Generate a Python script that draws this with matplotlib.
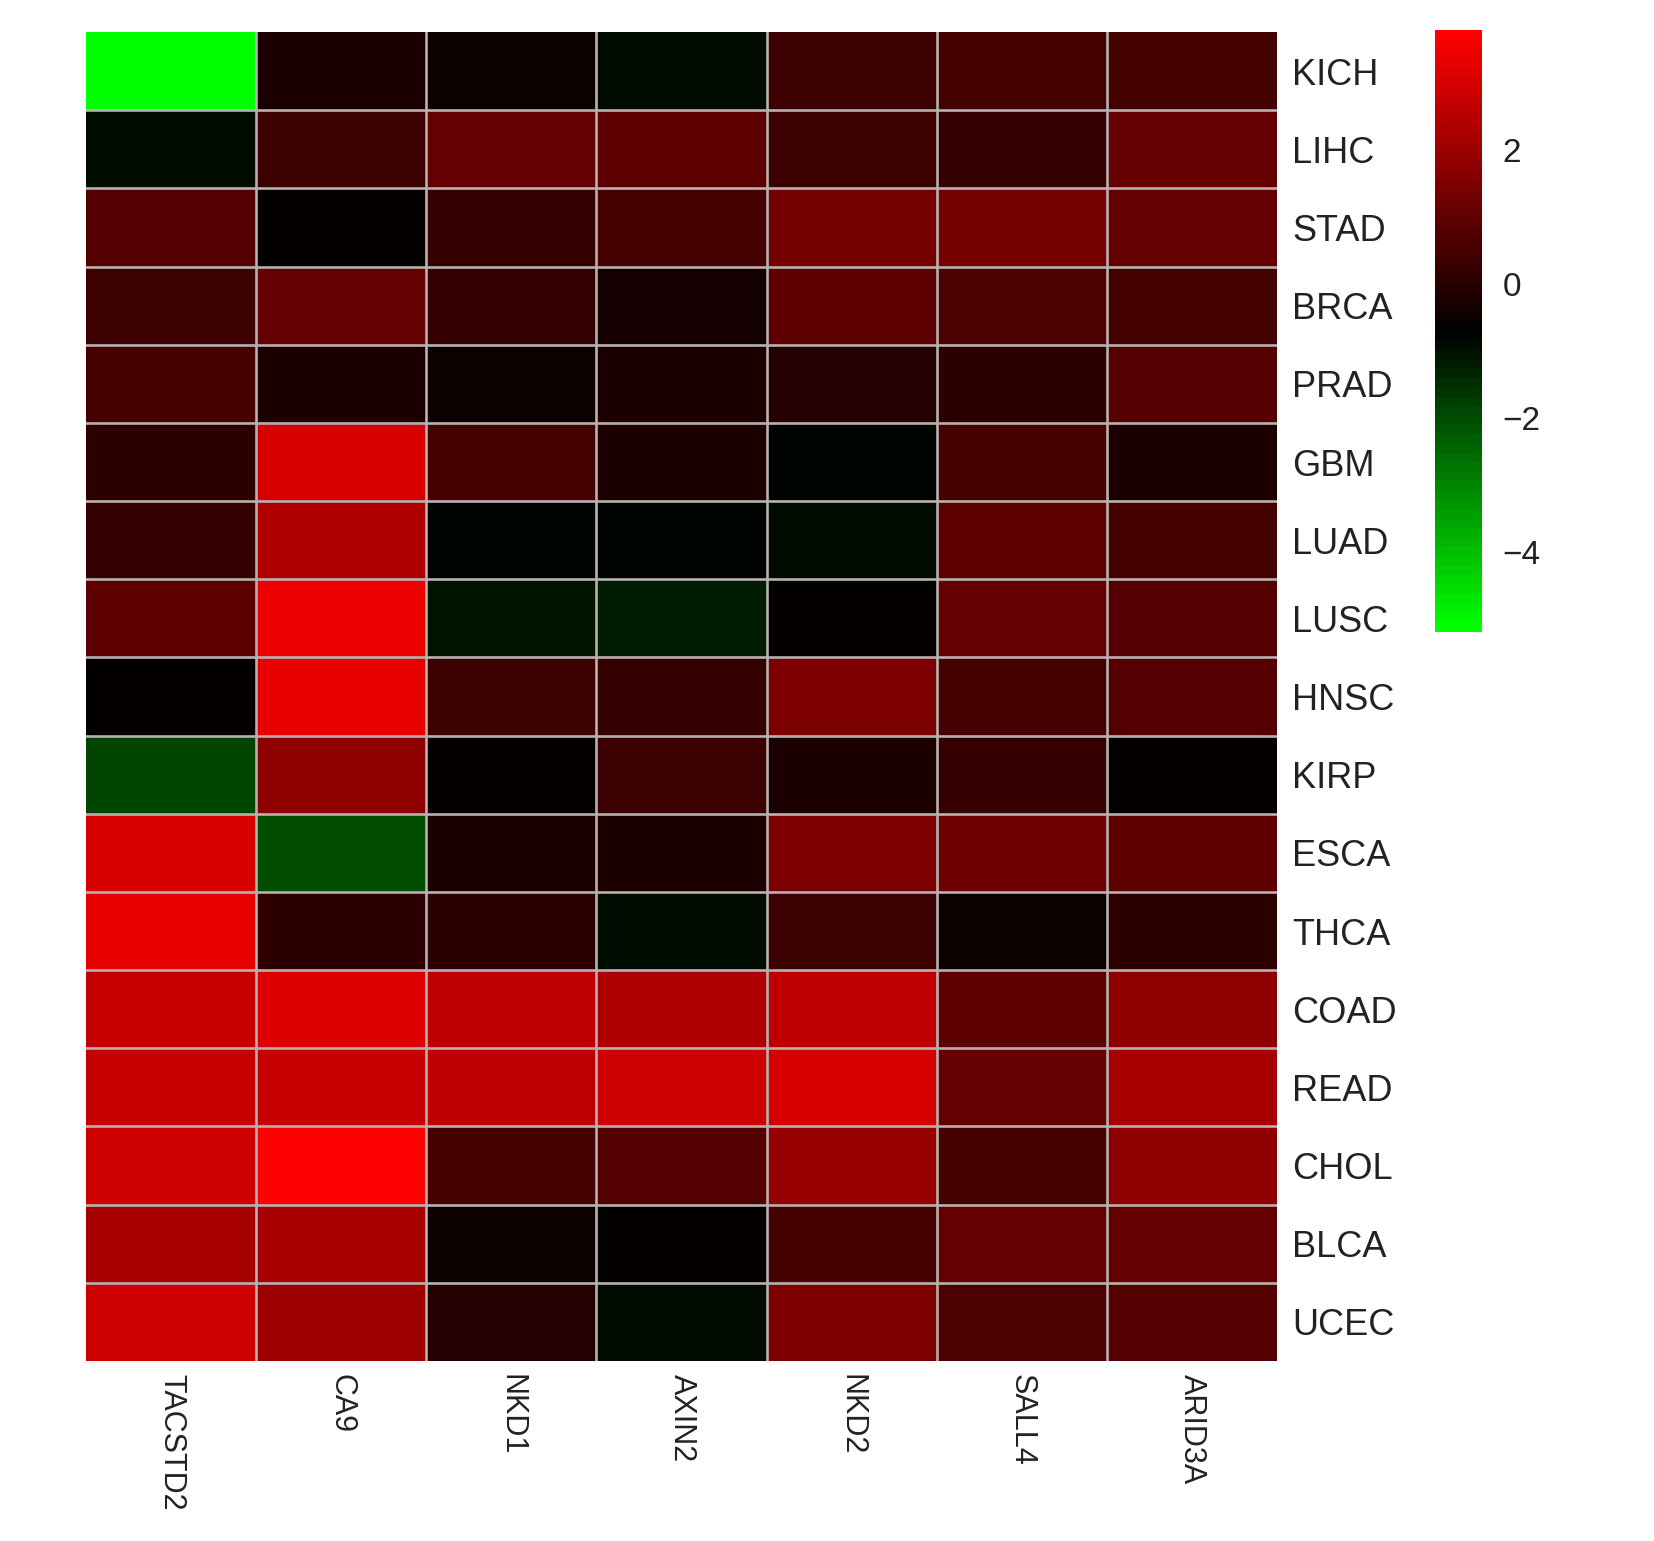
import matplotlib
matplotlib.use('Agg')
import matplotlib.pyplot as plt
import numpy as np
from matplotlib.colors import LinearSegmentedColormap, Normalize
import matplotlib.colorbar as mcolorbar

plt.rcParams['font.family'] = ['Liberation Sans', 'DejaVu Sans']

# ── DATA ──────────────────────────────────────────────────────
genes = ['TACSTD2', 'CA9', 'NKD1', 'AXIN2', 'NKD2', 'SALL4', 'ARID3A']
cancers = ['KICH', 'LIHC', 'STAD', 'BRCA', 'PRAD', 'GBM', 'LUAD', 'LUSC',
           'HNSC', 'KIRP', 'ESCA', 'THCA', 'COAD', 'READ', 'CHOL', 'BLCA', 'UCEC']

# one list per gene, values in cancer order (log fold change)
TACSTD2 = [-5.2, -0.93, 0.71, 0.32, 0.52, 0.04, 0.15, 0.89, -0.60, -1.83,
           2.97, 3.36, 2.69, 2.76, 2.90, 2.12, 2.90]
CA9     = [-0.14, 0.29, -0.60, 1.00, -0.24, 2.97, 2.26, 3.39, 3.32, 1.74,
           -2.00, 0.01, 3.11, 2.69, 3.80, 2.21, 2.02]
NKD1    = [-0.52, 0.99, 0.20, 0.20, -0.42, 0.43, -0.79, -1.02, 0.32, -0.56,
           -0.14, 0.04, 2.60, 2.55, 0.43, -0.45, -0.10]
AXIN2   = [-0.90, 0.85, 0.43, -0.38, -0.14, -0.17, -0.84, -1.16, 0.15, 0.29,
           -0.17, -0.88, 2.26, 2.83, 0.71, -0.61, -0.98]
NKD2    = [0.32, 0.32, 1.28, 0.89, -0.05, -0.84, -0.98, -0.56, 1.42, -0.17,
           1.45, 0.29, 2.55, 3.04, 1.84, 0.43, 1.49]
SALL4   = [0.52, 0.24, 1.28, 0.60, 0.11, 0.52, 0.85, 0.99, 0.43, 0.15,
           1.17, -0.52, 0.89, 1.08, 0.52, 1.08, 0.67]
ARID3A  = [0.50, 1.08, 1.08, 0.52, 0.71, -0.17, 0.52, 0.80, 0.71, -0.61,
           0.89, 0.01, 1.74, 2.12, 1.74, 1.08, 0.80]

VMIN, VMAX = -5.2, 3.8
cbar_ticks = [-4, -2, 0, 2]

mat = np.array([TACSTD2, CA9, NKD1, AXIN2, NKD2, SALL4, ARID3A]).T

# ── PLOT ──────────────────────────────────────────────────────
cmap = LinearSegmentedColormap.from_list('gkr', ['#00ff00', '#000000', '#ff0000'], N=64)
norm = Normalize(vmin=VMIN, vmax=VMAX)

fig = plt.figure(figsize=(16.54, 15.41), dpi=100)
ax = fig.add_axes([0.052, 0.1168, 0.720, 0.8624])
ax.pcolormesh(mat, cmap=cmap, norm=norm)
ax.set_xlim(0, len(genes))
ax.set_ylim(len(cancers), 0)

grid_col = '#b8b0b0'
for i in range(1, len(cancers)):
    ax.axhline(i, color=grid_col, lw=1.9)
for j in range(1, len(genes)):
    ax.axvline(j, color=grid_col, lw=1.9)

for s in ax.spines.values():
    s.set_visible(False)

ax.yaxis.tick_right()
ax.set_yticks(np.arange(len(cancers)) + 0.5)
ax.set_yticklabels(cancers, fontsize=26, color='#222222')
ax.set_xticks(np.arange(len(genes)) + 0.5)
ax.set_xticklabels(genes, fontsize=22, rotation=270, va='top', ha='center', color='#222222')
ax.tick_params(axis='y', length=0, pad=11)
ax.tick_params(axis='x', length=0, pad=9)

cax = fig.add_axes([0.8676, 0.590, 0.0284, 0.3907])
cb = mcolorbar.ColorbarBase(cax, cmap=cmap, norm=norm, orientation='vertical')
cb.outline.set_visible(False)
cb.set_ticks(cbar_ticks)
cb.ax.tick_params(length=0, pad=15, labelsize=24, labelcolor='#222222')

fig.savefig('out.png', dpi=100)
